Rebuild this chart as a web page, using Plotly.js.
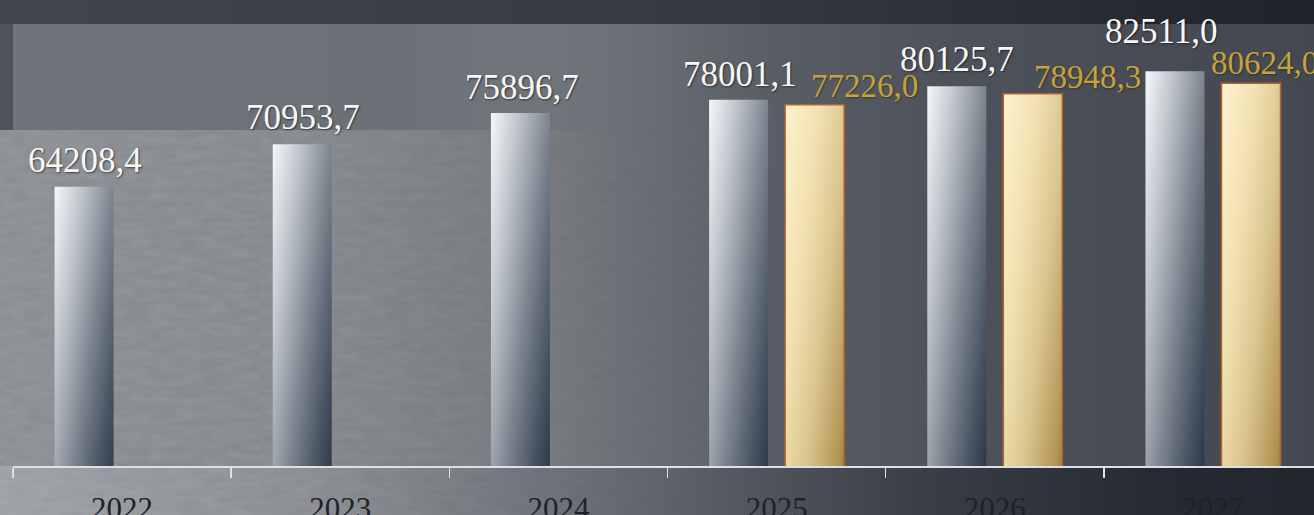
<!DOCTYPE html>
<html>
<head>
<meta charset="utf-8">
<script src="https://cdn.plot.ly/plotly-3.0.1.min.js"></script>
<style>
  html, body { margin: 0; padding: 0; background: #3b4048; }
  #wrap {
    position: relative; width: 1314px; height: 515px; overflow: hidden;
    background:
      linear-gradient(to right, #41464e 0%, #353940 55%, #1f232a 100%) 0 0 / 100% 24px no-repeat,
      linear-gradient(to right, #9da1a5 0%, #878b90 25%, #62676e 48%, #3a3e45 70%, #262a31 88%, #22262d 100%) 0 466px / 100% 49px no-repeat,
      linear-gradient(to right, #4e535a 0%, #4e535a 100%) 0 24px / 13px 106px no-repeat,
      linear-gradient(to right, #6f747b 0%, #6c7178 30%, rgba(100,105,112,0) 52%) 13px 24px / 100% 106px no-repeat,
      linear-gradient(to right, #8b8f93 0%, #85898d 22%, #74787d 42%, #5a5f66 58%, #4e535b 72%, #484d55 86%, #444951 100%);
  }
  #noise {
    position: absolute; left: 0; top: 130px; width: 760px; height: 385px;
    background-image: url("data:image/svg+xml;utf8,<svg xmlns='http://www.w3.org/2000/svg' width='260' height='260'><filter id='n'><feTurbulence type='fractalNoise' baseFrequency='0.04 0.14' numOctaves='4' seed='7'/><feColorMatrix values='0 0 0 0 1  0 0 0 0 1  0 0 0 0 1  0 0 0 0.13 -0.03'/></filter><rect width='100%' height='100%' filter='url(%23n)'/></svg>");
    -webkit-mask-image: linear-gradient(to right, black 0%, black 40%, transparent 100%);
    mask-image: linear-gradient(to right, black 0%, black 40%, transparent 100%);
  }
  #chart { position: absolute; left: 0; top: 0; width: 1314px; height: 515px; }
</style>
</head>
<body>
<div id="wrap">
  <div id="noise"></div>
  <div id="chart"></div>
</div>
<script>
// ---- data ----
const years = ['2022', '2023', '2024', '2025', '2026', '2027'];
const actual = [64208.4, 70953.7, 75896.7, 78001.1, 80125.7, 82511.0];
const forecast = [null, null, null, 77226.0, 78948.3, 80624.0];

// ---- label placement tweaks (pixels, relative to each bar) ----
const actualLabelDx = [1, 1, 2, 1, 0, -14];
const actualLabelDy = [5, 5, 4, 4, 5, 18];
const forecastLabelDx = [0, 0, 0, 50, 55, 14];
const forecastLabelDy = [0, 0, 0, -1, -3, 0];

const fmt = v => v.toFixed(1).replace('.', ',');
const labelFont = 'Liberation Serif, Times New Roman, serif';

const traces = [
  {
    type: 'bar', name: 'actual', x: years, y: actual,
    marker: { color: '#8a929c', line: { width: 0 } },
    hoverinfo: 'skip'
  },
  {
    type: 'bar', name: 'forecast', x: years, y: forecast,
    marker: { color: '#e0c88e', line: { width: 1.5, color: '#b4632a' } },
    hoverinfo: 'skip'
  }
];

const barOffset = 38;
const annotations = [];
years.forEach((yr, i) => {
  if (actual[i] != null) {
    annotations.push({
      x: i, y: actual[i], xref: 'x', yref: 'y', text: fmt(actual[i]),
      showarrow: false, yanchor: 'bottom', xanchor: 'center',
      xshift: -barOffset + actualLabelDx[i], yshift: actualLabelDy[i],
      font: { family: labelFont, size: 35, color: '#f7f7f7', shadow: '1px 1px 2px rgba(0,0,0,0.55)' }
    });
  }
  if (forecast[i] != null) {
    annotations.push({
      x: i, y: forecast[i], xref: 'x', yref: 'y', text: fmt(forecast[i]),
      showarrow: false, yanchor: 'bottom', xanchor: 'center',
      xshift: barOffset + forecastLabelDx[i], yshift: forecastLabelDy[i],
      font: { family: labelFont, size: 33, color: '#c6a23a', shadow: '1px 1px 2px rgba(0,0,0,0.35)' }
    });
  }
});

const layout = {
  width: 1314, height: 515,
  margin: { l: 13, r: 0, t: 24, b: 49 },
  paper_bgcolor: 'rgba(0,0,0,0)', plot_bgcolor: 'rgba(0,0,0,0)',
  showlegend: false,
  barmode: 'group', bargap: 0.303, bargroupgap: 0.224,
  xaxis: {
    type: 'category', range: [-0.5, 5.463],
    showline: true, linecolor: '#dde0e4', linewidth: 1.5,
    ticks: 'outside', tickson: 'boundaries', ticklen: 10, tickwidth: 1.5, tickcolor: '#dde0e4',
    ticklabelstandoff: 14,
    tickfont: { family: labelFont, size: 31, color: '#1d222a' },
    showgrid: false, zeroline: false, fixedrange: true
  },
  yaxis: {
    range: [20000, 90000], showgrid: false, zeroline: false,
    showticklabels: false, showline: false, ticks: '', fixedrange: true
  },
  annotations: annotations
};

Plotly.newPlot('chart', traces, layout, { displayModeBar: false, staticPlot: true }).then(gd => {
  const svg = gd.querySelector('svg.main-svg');
  const defs = svg.querySelector('defs');
  const NS = 'http://www.w3.org/2000/svg';
  function addGrad(id, stops) {
    const g = document.createElementNS(NS, 'linearGradient');
    g.setAttribute('id', id);
    g.setAttribute('x1', '0'); g.setAttribute('y1', '0');
    g.setAttribute('x2', '1'); g.setAttribute('y2', '1');
    stops.forEach(([o, c]) => {
      const s = document.createElementNS(NS, 'stop');
      s.setAttribute('offset', o); s.setAttribute('stop-color', c);
      g.appendChild(s);
    });
    defs.appendChild(g);
  }
  addGrad('gradGray', [[0, '#f6f7f9'], [0.22, '#c3c8cf'], [0.5, '#7c858f'], [0.75, '#44505f'], [1, '#132233']]);
  addGrad('gradGold', [[0, '#fef2cd'], [0.3, '#f1e0b0'], [0.55, '#d9c48e'], [0.8, '#b59757'], [1, '#86651f']]);
  const tr = gd.querySelectorAll('.barlayer .trace');
  tr.forEach((t, k) => {
    t.querySelectorAll('path').forEach(p => {
      p.style.fill = k === 0 ? 'url(#gradGray)' : 'url(#gradGold)';
      p.style.fillOpacity = 1;
    });
  });
});
</script>
</body>
</html>
